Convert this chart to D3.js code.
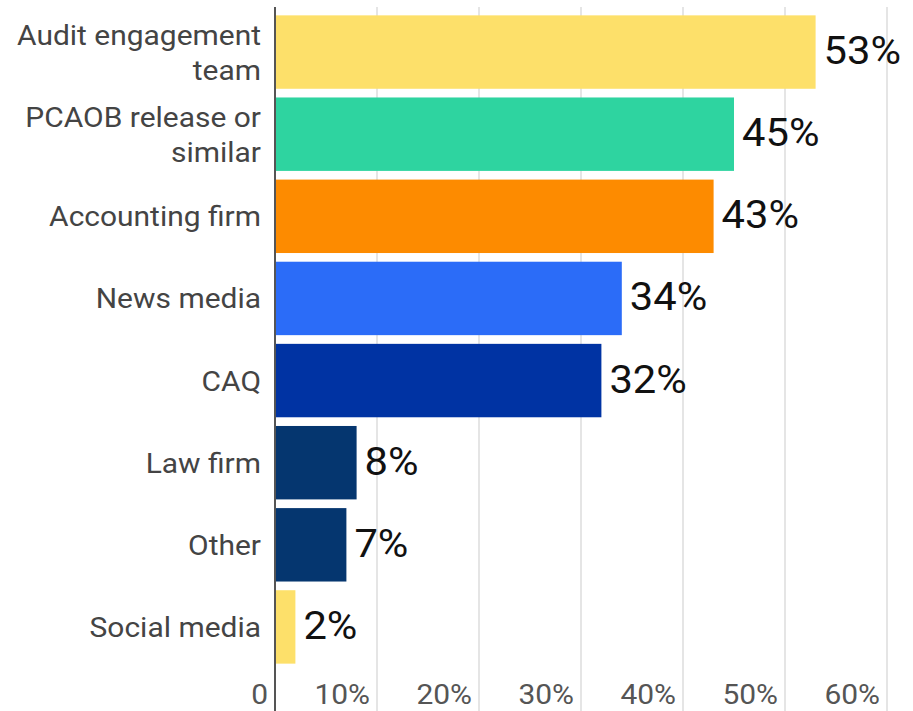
<!DOCTYPE html>
<html>
<head>
<meta charset="utf-8">
<script src="https://cdn.jsdelivr.net/npm/d3@7"></script>
<style>
  html, body { margin: 0; padding: 0; background: #fff; }
  svg { display: block; font-family: Roboto, "Noto Sans", sans-serif; }
</style>
</head>
<body>
<svg id="chart" width="913" height="711"></svg>
<script>
const categories = ["Audit engagement\nteam", "PCAOB release or\nsimilar", "Accounting firm", "News media", "CAQ", "Law firm", "Other", "Social media"];
const values = [53, 45, 43, 34, 32, 8, 7, 2];
const colors = ["#fde06a", "#2ed4a0", "#fd8b00", "#2b6cf8", "#0033a3", "#05366f", "#05366f", "#fde06a"];
const tickValues = [0, 10, 20, 30, 40, 50, 60];
const tickLabels = ["0", "10%", "20%", "30%", "40%", "50%", "60%"];

const data = categories.map((c, i) => ({ cat: c, value: values[i], color: colors[i] }));
const SX = 1.07; // horizontal stretch of text

const svg = d3.select("#chart");
const x = d3.scaleLinear().domain([0, 60]).range([275, 887]);
const y = d3.scaleBand().domain(categories).range([11, 668]).paddingInner(0.106).paddingOuter(0.053);

// gridlines
svg.append("g").selectAll("line")
  .data(tickValues.filter(d => d > 0))
  .join("line")
  .attr("x1", d => x(d)).attr("x2", d => x(d))
  .attr("y1", 7).attr("y2", 711)
  .attr("stroke", "#dcdcdc").attr("stroke-width", 1.5);

// bars
svg.append("g").selectAll("rect")
  .data(data)
  .join("rect")
  .attr("x", x(0))
  .attr("y", d => y(d.cat))
  .attr("width", d => x(d.value) - x(0))
  .attr("height", y.bandwidth())
  .attr("fill", d => d.color);

// value labels
svg.append("g").selectAll("text")
  .data(data)
  .join("text")
  .attr("transform", d => `translate(${x(d.value) + 8},${y(d.cat) + y.bandwidth() / 2 + 12}) scale(${SX},1)`)
  .attr("font-size", 39)
  .attr("fill", "#111")
  .text(d => d.value + "%");

// category labels
const lineH = 35;
const catG = svg.append("g");
data.forEach(d => {
  const lines = d.cat.split("\n");
  const cy = y(d.cat) + y.bandwidth() / 2;
  const t = catG.append("text")
    .attr("transform", `translate(${x(0) - 14},${cy}) scale(${SX},1)`)
    .attr("text-anchor", "end")
    .attr("font-size", 28)
    .attr("fill", "#444");
  lines.forEach((ln, i) => {
    t.append("tspan")
      .attr("x", 0)
      .attr("y", 10 + (i - (lines.length - 1) / 2) * lineH)
      .text(ln);
  });
});

// x axis tick labels
const xAxis = d3.axisBottom(x).tickValues(tickValues).tickSize(0).tickFormat((d, i) => tickLabels[i]);
const ax = svg.append("g").call(xAxis);
ax.select(".domain").remove();
ax.selectAll(".tick").attr("transform", d => `translate(${x(d) - 7},704) scale(${SX},1)`);
ax.selectAll("text")
  .attr("text-anchor", "end")
  .attr("x", 0)
  .attr("y", 0)
  .attr("dy", null)
  .attr("font-size", 28)
  .attr("font-family", "Roboto, sans-serif")
  .attr("fill", "#555");

// y axis line
svg.append("line")
  .attr("x1", x(0)).attr("x2", x(0))
  .attr("y1", 7).attr("y2", 711)
  .attr("stroke", "#555").attr("stroke-width", 2);
</script>
</body>
</html>
